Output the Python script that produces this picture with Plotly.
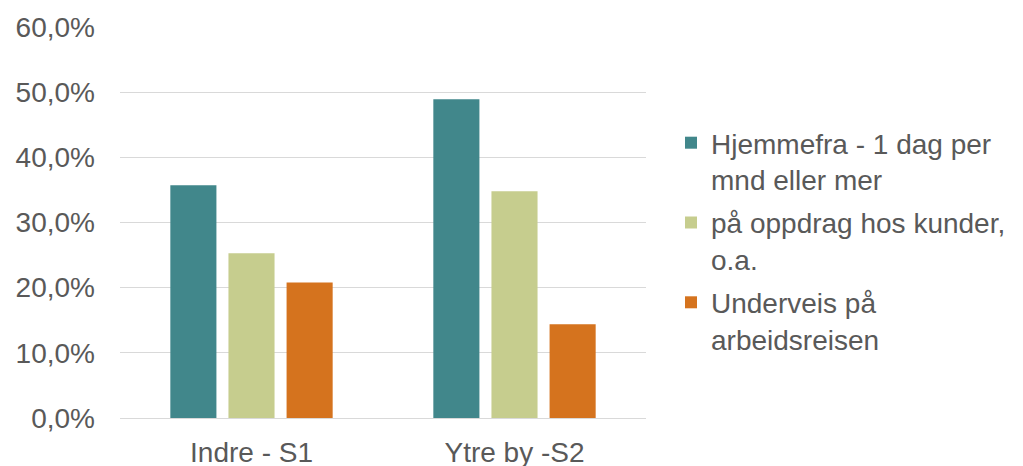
import plotly.graph_objects as go

categories = ["Indre - S1", "Ytre by -S2"]
series_names = ["Hjemmefra - 1 dag per<br>mnd eller mer", "på oppdrag hos kunder,<br>o.a.", "Underveis på<br>arbeidsreisen"]
hjemmefra = [0.357, 0.489]
oppdrag = [0.253, 0.348]
underveis = [0.208, 0.144]
colors = ["#41878B", "#C6CD8E", "#D5731E"]

fig = go.Figure()
for i, (name, vals, col) in enumerate(zip(series_names, [hjemmefra, oppdrag, underveis], colors)):
    fig.add_trace(go.Bar(x=categories, y=vals, name=name, legendgroup=f"g{i}",
                         marker=dict(color=col, line=dict(width=0))))

font_fam = "Liberation Sans, Arial, sans-serif"
fig.update_layout(
    width=1023, height=466,
    margin=dict(l=112, r=385, t=19, b=56),
    plot_bgcolor="white", paper_bgcolor="white",
    barmode="group", bargap=0.337, bargroupgap=0.207,
    separators=", ",
    font=dict(family=font_fam, size=28, color="#595959"),
    showlegend=True,
    legend=dict(x=(663 - 112) / 526, y=(410 - 110) / 391,
                xanchor="left", yanchor="top", valign="top",
                font=dict(size=28, color="#595959"), itemclick=False,
                tracegroupgap=4),
    yaxis=dict(range=[0, 0.6], dtick=0.1, tickformat=".1%", showgrid=True,
               gridcolor="#D9D9D9", gridwidth=1, zeroline=False, showline=False,
               ticks="", ticklabelstandoff=24, automargin=False),
    xaxis=dict(showline=True, linecolor="#D9D9D9", linewidth=1, ticks="",
               ticklabelstandoff=9, automargin=False),
)
fig.write_html("out.html")
